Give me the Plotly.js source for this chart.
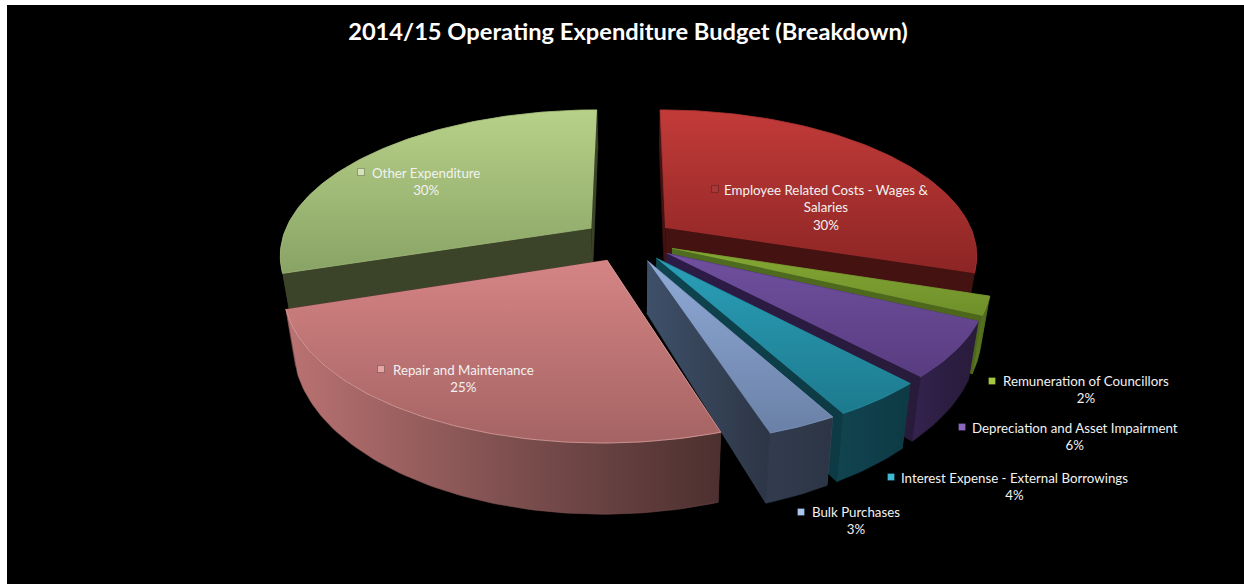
<!DOCTYPE html>
<html>
<head>
<meta charset="utf-8">
<script src="https://cdn.plot.ly/plotly-3.0.1.min.js"></script>
<style>html,body{margin:0;padding:0;background:#fff}#chart{width:1244px;height:584px}</style>
</head>
<body>
<div id="chart"></div>
<script>
// Budget shares, clockwise from twelve o'clock
const categories = ['Employee Related Costs - Wages &<br>Salaries', 'Remuneration of Councillors',
  'Depreciation and Asset Impairment', 'Interest Expense - External Borrowings',
  'Bulk Purchases', 'Repair and Maintenance', 'Other Expenditure'];
const shares = [30, 2, 6, 4, 3, 25, 30];

// Slice colours
const topLight = ['#c23b39', '#84a834', '#70509f', '#2a9fb8', '#90abd8', '#d58484', '#b8d189'];
const topDark = ['#8c2524', '#6f8f2a', '#583c80', '#1d7a8e', '#6a80a6', '#a56363', '#88a365'];
const rimColors = ['#a83332', '#7a9a30', '#65468f', '#248ba1', '#7f97c0', '#e0a3a3', '#a8c07e'];
const sideWall = ['#451212', '#4f6c20', '#2d1b47', '#0e4450', '#3e5069', '#5a3838', '#3b4429'];
const outerLeft = ['#451212', '#5e7c24', '#35234f', '#10444f', '#323c4e', '#bb7272', '#3b4429'];
const outerMid = ['#451212', '#557020', '#2c1e42', '#0f3f4a', '#2f394a', '#7f5050', '#3b4429'];
const outerRight = ['#451212', '#4d661c', '#281b3a', '#0d3a44', '#2d3545', '#4c302f', '#3b4429'];
const keyColors = ['#a83838', '#a4c640', '#8a68c0', '#3cbad6', '#aac6ee', '#e6a6a6', '#d6e2b6'];

// Text placement (centre of each label, and its key square)
const labelX = [826, 1086, 1075, 1014, 856, 463, 426];
const labelY = [207, 389.5, 436, 486, 520.5, 378, 181];
const keyX = [715, 992, 962, 891, 801, 381, 361];
const keyY = [189, 381, 427, 477, 512, 369, 172];

// Camera used to project the tilted disc on screen
const view = {cx: 628.5, cy: 240.5, ax: 310, ay: 143, persp: 0.176, depth: 51, shrink: 0.972, explode: 0.15};

function project(px, py, lower) {
  const s = 1 / (1 + view.persp * py);
  let x = view.cx + view.ax * px * s;
  let y = view.cy - view.ay * py * s;
  if (lower) {
    x = view.cx + (x - view.cx) * view.shrink;
    y += view.depth * Math.pow(s, 1.5);
  }
  return [x, y];
}

function polyTrace(points, fill) {
  return Object.assign({
    x: points.map(p => p[0]), y: points.map(p => p[1]),
    type: 'scatter', mode: 'lines', fill: 'toself', hoverinfo: 'skip', showlegend: false
  }, fill);
}
function solid(color) {
  return {fillcolor: color, line: {color: color, width: 0.5}};
}
function gradient(type, stops, lineColor, lineWidth) {
  return {fillgradient: {type: type, colorscale: stops}, line: {color: lineColor, width: lineWidth}};
}

const total = shares.reduce((a, b) => a + b, 0);
const slices = [];
let running = 0;
shares.forEach((value, i) => {
  const a0 = running / total * 2 * Math.PI;
  running += value;
  const a1 = running / total * 2 * Math.PI;
  const mid = (a0 + a1) / 2;
  const ox = view.explode * Math.sin(mid), oy = view.explode * Math.cos(mid);
  const arc = [];
  const steps = Math.max(4, Math.ceil((a1 - a0) / 0.02));
  for (let k = 0; k <= steps; k++) {
    const t = a0 + (a1 - a0) * k / steps;
    arc.push([ox + Math.sin(t), oy + Math.cos(t)]);
  }
  slices.push({i, ox, oy, arc});
});

function sliceTraces(sl) {
  const i = sl.i, first = sl.arc[0], last = sl.arc[sl.arc.length - 1], apex = [sl.ox, sl.oy];
  const out = [];
  const wall = (a, b) => [project(a[0], a[1]), project(b[0], b[1]), project(b[0], b[1], true), project(a[0], a[1], true)];
  out.push(polyTrace(wall(apex, first), solid(sideWall[i])));
  out.push(polyTrace(wall(apex, last), gradient('horizontal', [[0, sideWall[i]], [1, outerRight[i]]], sideWall[i], 0.5)));
  const upper = sl.arc.map(p => project(p[0], p[1]));
  const lowerArc = sl.arc.map(p => project(p[0], p[1], true)).reverse();
  out.push(polyTrace(upper.concat(lowerArc),
    gradient('horizontal', [[0, outerLeft[i]], [0.5, outerMid[i]], [1, outerRight[i]]], outerMid[i], 0.5)));
  const face = [project(apex[0], apex[1])].concat(upper);
  out.push(polyTrace(face, gradient('vertical', [[0, topDark[i]], [1, topLight[i]]], rimColors[i], 0.8)));
  return out;
}

// Painter's order: rear slices first, then round the front towards the large pink one
const order = [0, 6, 1, 2, 3, 4, 5];
const traces = [];
order.forEach(k => traces.push(...sliceTraces(slices[k])));

// Key squares beside each label
categories.forEach((c, i) => {
  traces.push({
    x: [keyX[i]], y: [keyY[i]], type: 'scatter', mode: 'markers', hoverinfo: 'skip', showlegend: false,
    marker: {symbol: 'square', size: 7, color: keyColors[i], line: {color: 'rgba(0,0,0,0.25)', width: 1}}
  });
});

const annotations = categories.map((c, i) => ({
  x: labelX[i], y: labelY[i], xref: 'x', yref: 'y', text: c + '<br>' + shares[i] + '%',
  showarrow: false, align: 'center', xanchor: 'center', yanchor: 'middle',
  font: {family: 'Lato, "Open Sans", sans-serif', size: 13.3, color: '#f2f2f2'}
}));

const layout = {
  width: 1244, height: 584,
  margin: {l: 7, r: 0, t: 5, b: 0, pad: 0},
  paper_bgcolor: '#ffffff', plot_bgcolor: '#000000',
  showlegend: false,
  title: {
    text: '<b>2014/15 Operating Expenditure Budget (Breakdown)</b>',
    x: 628 / 1244, xanchor: 'center', y: 1 - 32 / 584, yanchor: 'middle',
    font: {family: 'Lato, "Open Sans", sans-serif', size: 23.7, color: '#ffffff'}
  },
  xaxis: {range: [7, 1244], visible: false, fixedrange: true},
  yaxis: {range: [584, 5], visible: false, fixedrange: true},
  annotations
};

Plotly.newPlot('chart', traces, layout, {displayModeBar: false, staticPlot: true});
</script>
</body>
</html>
